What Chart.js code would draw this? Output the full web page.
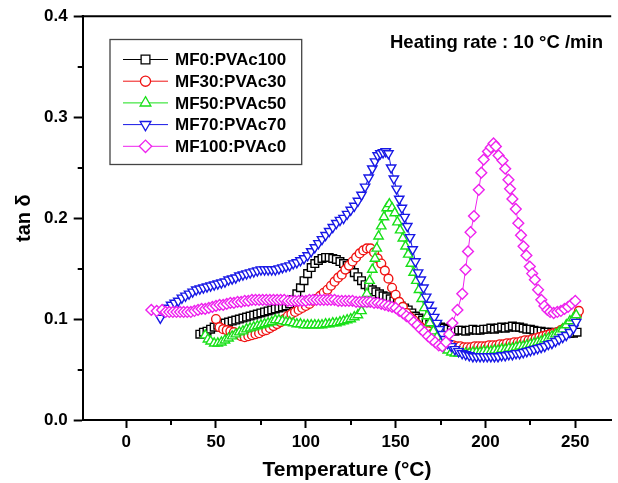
<!DOCTYPE html>
<html>
<head>
<meta charset="utf-8">
<title>tan δ vs temperature</title>
<script src="https://cdn.jsdelivr.net/npm/chart.js@4.4.1/dist/chart.umd.min.js"></script>
<style>
  html, body { margin: 0; padding: 0; background: #ffffff; }
  canvas { display: block; }
</style>
</head>
<body>
<canvas id="chart" width="618" height="483"></canvas>
<script>
// ---- Data: loss tangent (tan δ) against temperature (°C) ----
const mf0Temp = [41,43,45,47,49,51,53,55,57,59,61,63,65,67,69,71,73,75,77,79,81,83,85,87,89,91,93,95,97,99,101,103,105,107,109,111,113,115,117,119,121,123,125,127,129,131,133,135,137,139,141,143,145,147,149,151,153,155,157,159,161,163,165,167,169,171,173,175,177,179,181,183,185,187,189,191,193,195,197,199,201,203,205,207,209,211,213,215,217,219,221,223,225,227,229,231,233,235,237,239,241,243,245,247,249,251];
const mf0Tan  = [0.085,0.087,0.088,0.090,0.092,0.094,0.095,0.096,0.097,0.098,0.099,0.100,0.101,0.102,0.103,0.104,0.105,0.106,0.107,0.108,0.109,0.110,0.111,0.112,0.113,0.115,0.119,0.125,0.131,0.138,0.145,0.151,0.155,0.158,0.160,0.161,0.161,0.160,0.159,0.157,0.155,0.153,0.150,0.146,0.142,0.138,0.134,0.132,0.129,0.127,0.125,0.123,0.122,0.120,0.118,0.116,0.113,0.111,0.109,0.106,0.103,0.101,0.099,0.097,0.095,0.094,0.093,0.092,0.091,0.090,0.089,0.088,0.089,0.089,0.088,0.089,0.090,0.089,0.089,0.090,0.090,0.091,0.090,0.091,0.092,0.091,0.092,0.093,0.092,0.092,0.091,0.090,0.090,0.089,0.088,0.088,0.087,0.087,0.087,0.086,0.086,0.086,0.086,0.086,0.086,0.087];

const mf30Temp = [50,52,54,56,58,60,62,64,66,68,70,72,74,76,78,80,82,84,86,88,90,92,94,96,98,100,102,104,106,108,110,112,114,116,118,120,122,124,126,128,130,132,134,136,138,140,142,144,146,148,150,152,154,156,158,160,162,164,166,168,170,172,174,176,178,180,182,184,186,188,190,192,194,196,198,200,202,204,206,208,210,212,214,216,218,220,222,224,226,228,230,232,234,236,238,240,242,244,246,248,250,251,252];
const mf30Tan  = [0.100,0.092,0.090,0.089,0.088,0.087,0.085,0.083,0.082,0.083,0.084,0.085,0.086,0.088,0.089,0.091,0.093,0.095,0.097,0.100,0.103,0.105,0.107,0.109,0.111,0.113,0.115,0.118,0.120,0.123,0.126,0.129,0.133,0.137,0.141,0.144,0.149,0.153,0.157,0.161,0.165,0.168,0.170,0.170,0.166,0.160,0.155,0.148,0.140,0.131,0.124,0.117,0.112,0.106,0.102,0.099,0.095,0.092,0.090,0.088,0.085,0.083,0.081,0.079,0.077,0.075,0.074,0.073,0.073,0.072,0.072,0.072,0.073,0.073,0.073,0.073,0.074,0.074,0.074,0.075,0.075,0.076,0.076,0.077,0.077,0.078,0.079,0.079,0.080,0.081,0.082,0.083,0.084,0.085,0.086,0.087,0.089,0.091,0.093,0.096,0.100,0.104,0.108];

const mf50Temp = [44,45.5,47,49,51,53,55,57,59,61,63,65,67,69,71,73,75,77,79,81,83,85,87,89,91,93,95,97,99,101,103,105,107,109,111,113,115,117,119,121,123,125,127,129,131,132.5,134,135.5,137,138.5,139.5,140.5,142,143.5,145,146.5,148,149.5,151,152.5,154,155.5,157,158.5,160,161.5,163,164.5,166,167.5,169,171,173,175,177,179,181,183,185,187,189,191,193,195,197,199,201,203,205,207,209,211,213,215,217,219,221,223,225,227,229,231,233,235,237,239,241,243,245,247,249,250.5];
const mf50Tan  = [0.084,0.080,0.078,0.076,0.076,0.077,0.079,0.081,0.083,0.085,0.087,0.088,0.090,0.091,0.092,0.093,0.094,0.095,0.096,0.097,0.099,0.099,0.098,0.097,0.097,0.096,0.095,0.095,0.094,0.094,0.094,0.094,0.094,0.094,0.095,0.095,0.096,0.096,0.097,0.098,0.099,0.100,0.102,0.104,0.108,0.115,0.125,0.138,0.149,0.160,0.170,0.182,0.192,0.201,0.210,0.214,0.210,0.205,0.196,0.188,0.180,0.172,0.164,0.155,0.146,0.138,0.129,0.120,0.111,0.103,0.096,0.088,0.082,0.076,0.072,0.069,0.067,0.066,0.066,0.066,0.066,0.066,0.067,0.067,0.067,0.068,0.068,0.068,0.069,0.069,0.070,0.070,0.071,0.071,0.072,0.073,0.073,0.074,0.075,0.076,0.077,0.078,0.080,0.081,0.083,0.085,0.087,0.090,0.094,0.098,0.101,0.104];

const mf70Temp = [19,21,23,25,27,29,31,33,35,37,39,41,43,45,47,49,51,53,55,57,59,61,63,65,67,69,71,73,75,77,79,81,83,85,87,89,91,93,95,97,99,101,103,105,107,109,111,113,115,117,119,121,123,125,127,129,131,133,135,137,138.5,140,141.5,143,144.5,146,147.5,149,150.5,152,153.5,155,156.5,158,159.5,161,162.5,164,165.5,167,168.5,170,171.5,173,174.5,176,177.5,179,181,183,185,187,189,191,193,195,197,199,201,203,205,207,209,211,213,215,217,219,221,223,225,227,229,231,233,235,237,239,241,243,245,247,249,250.5];
const mf70Tan  = [0.101,0.107,0.111,0.114,0.116,0.118,0.121,0.123,0.125,0.127,0.129,0.130,0.131,0.132,0.133,0.134,0.135,0.136,0.137,0.139,0.140,0.141,0.143,0.144,0.145,0.146,0.147,0.148,0.149,0.149,0.149,0.149,0.149,0.150,0.151,0.152,0.153,0.155,0.156,0.158,0.160,0.163,0.167,0.171,0.175,0.179,0.183,0.187,0.191,0.195,0.198,0.200,0.204,0.208,0.212,0.217,0.223,0.231,0.240,0.249,0.256,0.262,0.264,0.265,0.266,0.264,0.250,0.239,0.229,0.219,0.210,0.201,0.192,0.181,0.169,0.157,0.146,0.139,0.131,0.122,0.114,0.108,0.102,0.096,0.090,0.085,0.080,0.076,0.073,0.070,0.068,0.066,0.065,0.064,0.063,0.063,0.063,0.063,0.063,0.063,0.063,0.063,0.064,0.064,0.065,0.065,0.066,0.066,0.067,0.068,0.069,0.070,0.071,0.072,0.073,0.075,0.076,0.078,0.080,0.082,0.084,0.087,0.091,0.097];

const mf100Temp = [14,17,20,22,24,26,28,30,32,34,36,38,40,42,44,46,48,50,52,54,56,58,60,62,64,66,68,70,72,74,76,78,80,82,84,86,88,90,92,94,96,98,100,102,104,106,108,110,112,114,116,118,120,122,124,126,128,130,132,134,136,138,140,142,144,146,148,150,152,154,156,158,160,162,164,166,168,170,172,174,176,178,179.8,181.6,184.4,187.1,188.9,190.3,191.7,193.6,196.3,197.7,199,201.4,203,204.5,205.8,207.3,209.5,211,212.8,213.7,215,216.9,218.3,219.8,221.2,222.8,224.7,226,227.5,229.3,231.1,232.8,234.5,236,238,240,242,244,246,248,250];
const mf100Tan  = [0.109,0.108,0.109,0.107,0.107,0.107,0.107,0.107,0.107,0.107,0.107,0.108,0.109,0.110,0.110,0.111,0.112,0.113,0.114,0.114,0.115,0.116,0.116,0.117,0.117,0.118,0.118,0.119,0.119,0.119,0.119,0.119,0.119,0.119,0.119,0.119,0.119,0.118,0.118,0.118,0.118,0.118,0.118,0.119,0.119,0.119,0.119,0.119,0.119,0.119,0.119,0.118,0.118,0.118,0.118,0.118,0.117,0.117,0.117,0.117,0.117,0.116,0.116,0.115,0.114,0.113,0.112,0.111,0.108,0.106,0.103,0.101,0.097,0.094,0.090,0.087,0.083,0.080,0.077,0.074,0.073,0.077,0.085,0.096,0.109,0.125,0.149,0.167,0.186,0.202,0.228,0.245,0.258,0.266,0.270,0.274,0.271,0.262,0.257,0.249,0.238,0.229,0.219,0.209,0.195,0.183,0.172,0.163,0.152,0.145,0.139,0.129,0.119,0.113,0.109,0.107,0.106,0.107,0.108,0.110,0.112,0.115,0.118];

// Axis ticks
const xMajorTicks = [0, 50, 100, 150, 200, 250];
const xMinorTicks = [25, 75, 125, 175, 225];
const yMajorTicks = [0, 0.1, 0.2, 0.3, 0.4];
const yMinorTicks = [0.05, 0.15, 0.25, 0.35];

// Series appearance
const series = [
  { label: 'MF0:PVAc100',  temp: mf0Temp,   tan: mf0Tan,   color: '#000000', style: 'rect',     rot: 0,   r: 5.4 },
  { label: 'MF30:PVAc30',  temp: mf30Temp,  tan: mf30Tan,  color: '#f01414', style: 'circle',   rot: 0,   r: 4.4 },
  { label: 'MF50:PVAc50',  temp: mf50Temp,  tan: mf50Tan,  color: '#18e018', style: 'triangle', rot: 0,   r: 5.4 },
  { label: 'MF70:PVAc70',  temp: mf70Temp,  tan: mf70Tan,  color: '#1818e6', style: 'triangle', rot: 180, r: 5.4 },
  { label: 'MF100:PVAc0',  temp: mf100Temp, tan: mf100Tan, color: '#ee22ee', style: 'rectRot',  rot: 0,   r: 5.4 }
];

const FONT = "'Liberation Sans', Arial, Helvetica, sans-serif";
Chart.defaults.font.family = FONT;
Chart.defaults.font.weight = 'bold';
Chart.defaults.color = '#000';

const datasets = series.map((s, i) => ({
  label: s.label,
  data: s.temp.map((t, k) => ({ x: t, y: s.tan[k] })),
  showLine: true,
  borderColor: s.color,
  borderWidth: 1,
  backgroundColor: '#ffffff',
  pointStyle: s.style,
  pointRotation: s.rot,
  pointRadius: s.r,
  pointHoverRadius: s.r,
  pointBorderColor: s.color,
  pointBackgroundColor: '#ffffff',
  pointBorderWidth: 1.4,
  order: series.length - 1 - i   // later series are painted on top
}));

// Marker shapes for the legend samples
function drawMarker(ctx, style, rot, r, x, y, color) {
  ctx.save();
  ctx.translate(x, y);
  ctx.rotate(rot * Math.PI / 180);
  ctx.beginPath();
  if (style === 'rect') {
    const h = r * Math.SQRT1_2;
    ctx.rect(-h, -h, 2 * h, 2 * h);
  } else if (style === 'circle') {
    ctx.arc(0, 0, r, 0, Math.PI * 2);
  } else if (style === 'triangle') {
    for (let k = 0; k < 3; k++) {
      const a = k * 2 * Math.PI / 3;
      const px = Math.sin(a) * r, py = -Math.cos(a) * r;
      if (k === 0) ctx.moveTo(px, py); else ctx.lineTo(px, py);
    }
    ctx.closePath();
  } else if (style === 'rectRot') {
    ctx.moveTo(-r, 0); ctx.lineTo(0, -r); ctx.lineTo(r, 0); ctx.lineTo(0, r);
    ctx.closePath();
  }
  ctx.fillStyle = '#ffffff';
  ctx.fill();
  ctx.strokeStyle = color;
  ctx.lineWidth = 1.3;
  ctx.stroke();
  ctx.restore();
}

// Frame top line, minor ticks, boxed legend and the annotation text
const decorPlugin = {
  id: 'decor',
  afterDraw(chart) {
    const { ctx, chartArea: ca, scales } = chart;
    const xs = scales.x, ys = scales.y;
    ctx.save();
    ctx.strokeStyle = '#000';
    ctx.lineWidth = 2;
    ctx.beginPath();
    ctx.moveTo(ca.left - 1, ca.top);
    ctx.lineTo(ca.right, ca.top);
    ctx.stroke();

    ctx.beginPath();
    xMinorTicks.forEach(v => {
      const px = Math.round(xs.getPixelForValue(v));
      ctx.moveTo(px, ca.bottom);
      ctx.lineTo(px, ca.bottom + 5);
    });
    yMinorTicks.forEach(v => {
      const py = Math.round(ys.getPixelForValue(v));
      ctx.moveTo(ca.left, py);
      ctx.lineTo(ca.left - 5, py);
    });
    ctx.stroke();

    // Legend box
    const bx = ca.left + 27.3, by = ca.top + 23.3, bw = 191.7, bh = 125;
    ctx.strokeStyle = '#444';
    ctx.lineWidth = 1.3;
    ctx.strokeRect(bx, by, bw, bh);
    ctx.font = 'bold 17px ' + FONT;
    ctx.textBaseline = 'middle';
    ctx.textAlign = 'left';
    chart.data.datasets.forEach((ds, i) => {
      const s = series[i];
      const ry = by + 20 + i * 21.7;
      ctx.strokeStyle = ds.borderColor;
      ctx.lineWidth = 1;
      ctx.beginPath();
      ctx.moveTo(bx + 13, ry);
      ctx.lineTo(bx + 58, ry);
      ctx.stroke();
      drawMarker(ctx, s.style, s.rot, s.r * 1.15, bx + 35.5, ry, ds.borderColor);
      ctx.fillStyle = '#000';
      ctx.fillText(ds.label, bx + 65, ry + 1);
    });

    // Heating-rate annotation
    ctx.font = 'bold 18.5px ' + FONT;
    ctx.fillStyle = '#000';
    ctx.fillText('Heating rate : 10 °C /min', ca.left + 307.3, ca.top + 27);
    ctx.restore();
  }
};

new Chart(document.getElementById('chart'), {
  type: 'scatter',
  data: { datasets },
  plugins: [decorPlugin],
  options: {
    responsive: false,
    animation: false,
    devicePixelRatio: 1,
    events: [],
    layout: { padding: { top: 16, right: 0, bottom: 0, left: 0 } },
    plugins: { legend: { display: false }, tooltip: { enabled: false } },
    scales: {
      x: {
        type: 'linear',
        min: -24.2,
        max: 270,
        afterBuildTicks: s => { s.ticks = xMajorTicks.map(v => ({ value: v })); },
        afterFit: s => { s.height = 63; },
        grid: { drawOnChartArea: false, drawTicks: true, tickLength: 8, tickWidth: 2, tickColor: '#000' },
        border: { display: true, color: '#000', width: 2 },
        ticks: { color: '#000', font: { size: 17, weight: 'bold' }, padding: 4, maxRotation: 0, autoSkip: false,
                 callback: v => String(v) },
        title: { display: true, text: 'Temperature (°C)', color: '#000',
                 font: { size: 21, weight: 'bold' }, padding: { top: 0, bottom: 0 } }
      },
      y: {
        type: 'linear',
        min: 0,
        max: 0.4,
        afterBuildTicks: s => { s.ticks = yMajorTicks.map(v => ({ value: v })); },
        afterFit: s => { s.width = 82.7; },
        grid: { drawOnChartArea: false, drawTicks: true, tickLength: 9, tickWidth: 2, tickColor: '#000' },
        border: { display: true, color: '#000', width: 2 },
        ticks: { color: '#000', font: { size: 17, weight: 'bold' }, padding: 6,
                 callback: v => v.toFixed(1) },
        title: { display: true, text: 'tan δ', color: '#000',
                 font: { size: 20, weight: 'bold' }, padding: { top: 12, bottom: 0 } }
      }
    }
  }
});
</script>
</body>
</html>
